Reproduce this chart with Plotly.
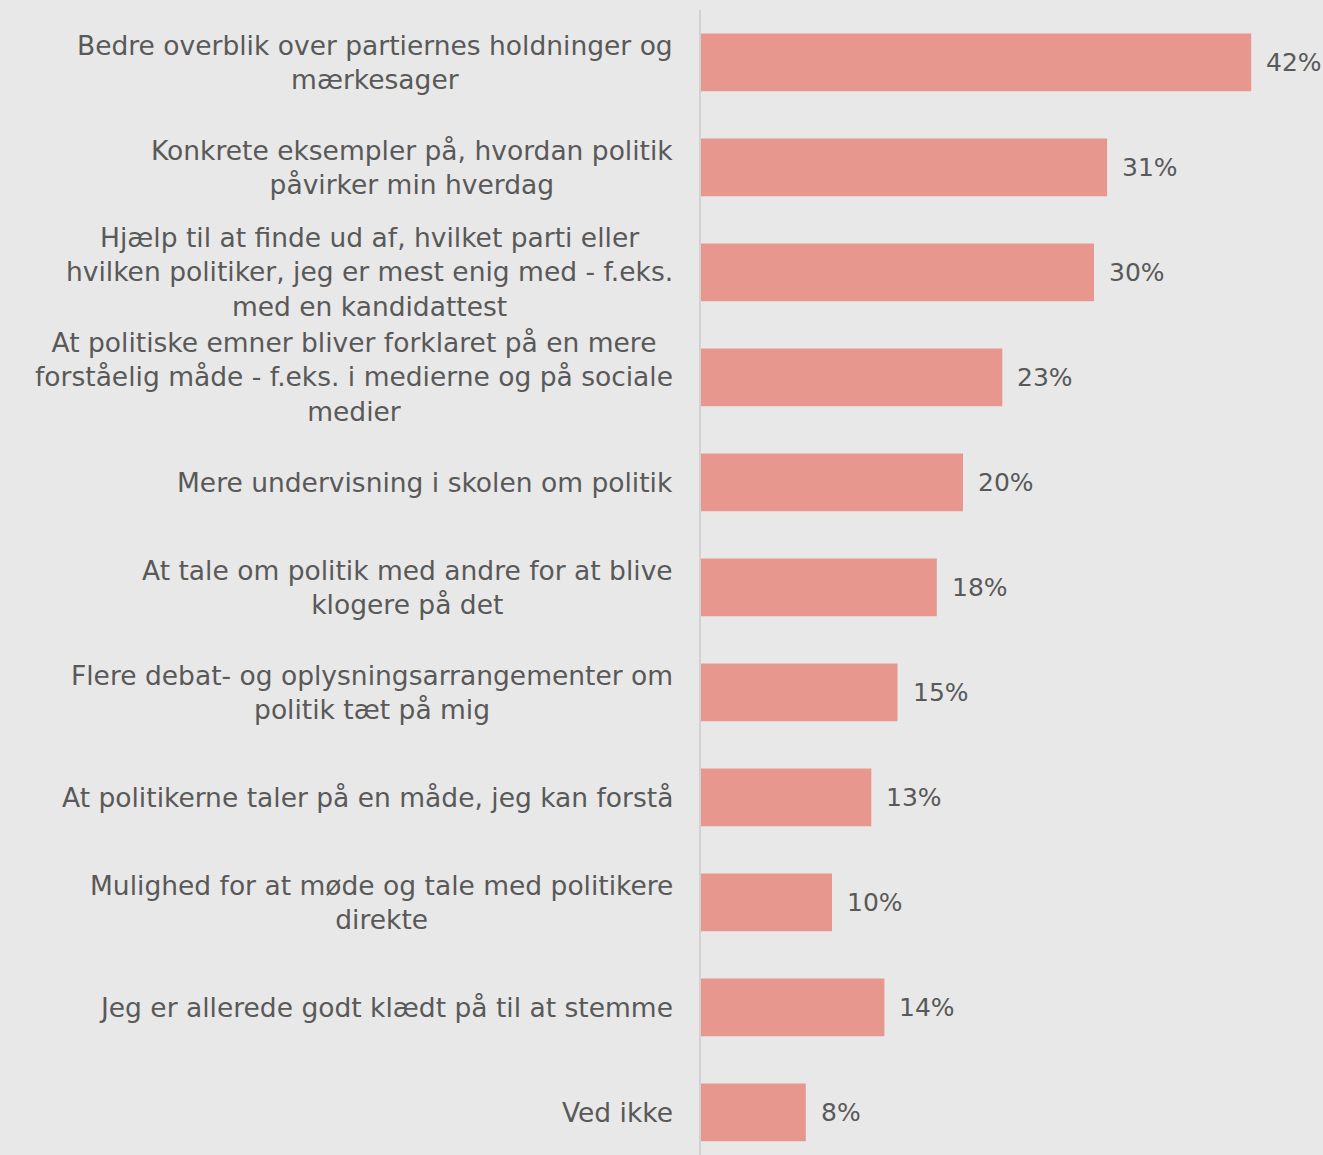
import plotly.graph_objects as go

categories = [
    "Bedre overblik over partiernes holdninger og<br>mærkesager",
    "Konkrete eksempler på, hvordan politik<br>påvirker min hverdag",
    "Hjælp til at finde ud af, hvilket parti eller<br>hvilken politiker, jeg er mest enig med - f.eks.<br>med en kandidattest",
    "At politiske emner bliver forklaret på en mere<br>forståelig måde - f.eks. i medierne og på sociale<br>medier",
    "Mere undervisning i skolen om politik",
    "At tale om politik med andre for at blive<br>klogere på det",
    "Flere debat- og oplysningsarrangementer om<br>politik tæt på mig",
    "At politikerne taler på en måde, jeg kan forstå",
    "Mulighed for at møde og tale med politikere<br>direkte",
    "Jeg er allerede godt klædt på til at stemme",
    "Ved ikke",
]
values = [42, 31, 30, 23, 20, 18, 15, 13, 10, 14, 8]

BG = "#e8e8e8"
BAR = "#e8978f"
TXT = "#595959"
FONT = "DejaVu Sans"

fig = go.Figure()
fig.add_trace(go.Bar(
    x=values,
    y=list(range(len(categories))),
    orientation="h",
    marker=dict(color=BAR, line=dict(width=0)),
    hoverinfo="skip",
))

annotations = []
for i, (c, v) in enumerate(zip(categories, values)):
    annotations.append(dict(
        x=0, xref="paper", y=i, yref="y", text=c, showarrow=False,
        xanchor="right", yanchor="middle", align="center", xshift=-26,
        font=dict(family=FONT, size=26.5, color=TXT),
    ))
    annotations.append(dict(
        x=v, xref="x", y=i, yref="y", text=f"{v}%", showarrow=False,
        xanchor="left", yanchor="middle", xshift=13,
        font=dict(family=FONT, size=25, color=TXT),
    ))

fig.update_layout(
    width=1323, height=1155,
    margin=dict(l=701, r=0, t=10, b=0),
    paper_bgcolor=BG, plot_bgcolor=BG,
    bargap=0.45,
    showlegend=False,
    annotations=annotations,
    xaxis=dict(range=[0, 47.48], visible=False, fixedrange=True),
    yaxis=dict(range=[10.405, -0.5], showticklabels=False, showgrid=False,
               zeroline=False, showline=True, linecolor="#d2d2d2", linewidth=2,
               ticks="", fixedrange=True),
)

fig.write_html(
    "out.html",
    config={"displayModeBar": False},
    post_script="document.body.style.margin='0';document.body.style.background='#e8e8e8';",
)
